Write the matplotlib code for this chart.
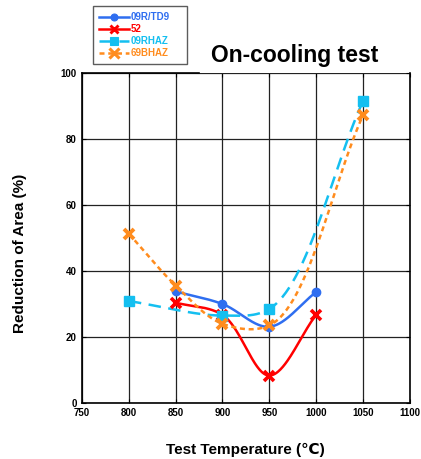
import numpy as np
import matplotlib
matplotlib.use('Agg')
import matplotlib.pyplot as plt
from matplotlib.lines import Line2D

plt.rcParams['font.family'] = ['Liberation Sans', 'DejaVu Sans']

# data
t_td9 = [850, 900, 950, 1000]
ra_td9 = [33.7, 29.9, 23.0, 33.5]
t_52 = [850, 900, 950, 1000]
ra_52 = [30.3, 26.6, 8.2, 26.6]
t_rhaz = [800, 900, 950, 1050]
ra_rhaz = [30.8, 26.4, 28.4, 91.4]
t_bhaz = [800, 850, 900, 950, 1050]
ra_bhaz = [51.2, 35.5, 23.9, 23.4, 87.1]
labels = ['09R/TD9', '52', '09RHAZ', '69BHAZ']

def smooth(ax, x, y, alpha=0.62, n=60):
    # catmull-rom through the points, done in screen space
    P = ax.transData.transform(np.column_stack([x, y]))
    P = np.vstack([2 * P[0] - P[1], P, 2 * P[-1] - P[-2]])
    out = []
    for i in range(len(P) - 3):
        p0, p1, p2, p3 = P[i:i + 4]
        t0 = 0.0
        t1 = t0 + np.linalg.norm(p1 - p0) ** alpha
        t2 = t1 + np.linalg.norm(p2 - p1) ** alpha
        t3 = t2 + np.linalg.norm(p3 - p2) ** alpha
        t = np.linspace(t1, t2, n)[:, None]
        a1 = (t1 - t) / (t1 - t0) * p0 + (t - t0) / (t1 - t0) * p1
        a2 = (t2 - t) / (t2 - t1) * p1 + (t - t1) / (t2 - t1) * p2
        a3 = (t3 - t) / (t3 - t2) * p2 + (t - t2) / (t3 - t2) * p3
        b1 = (t2 - t) / (t2 - t0) * a1 + (t - t0) / (t2 - t0) * a2
        b2 = (t3 - t) / (t3 - t1) * a2 + (t - t1) / (t3 - t1) * a3
        out.append((t2 - t) / (t2 - t1) * b1 + (t - t1) / (t2 - t1) * b2)
    q = ax.transData.inverted().transform(np.vstack(out))
    return q[:, 0], q[:, 1]

fig = plt.figure(figsize=(4.21, 4.59), dpi=100)
ax = fig.add_axes([0.195, 0.123, 0.778, 0.718])
ax.set_xlim(750, 1100)
ax.set_ylim(0, 100)

styles = [
    (t_td9, ra_td9, '#2f6ef0', '-', 'o', 6, 1),
    (t_52, ra_52, '#ff0000', '-', 'x', 7, 2.6),
    (t_rhaz, ra_rhaz, '#14bff0', (0, (5, 3)), 's', 6.5, 1),
    (t_bhaz, ra_bhaz, '#ff8c1e', (0, (2, 1.5)), 'x', 7.5, 2.8),
]
handles = []
for (x, y, c, ls, m, ms, mew), lab in zip(styles, labels):
    sx, sy = smooth(ax, x, y)
    ax.plot(sx, sy, color=c, ls=ls, lw=1.8, zorder=3)
    ax.plot(x, y, ls='none', marker=m, color=c, ms=ms, mew=mew, zorder=4)
    handles.append(Line2D([], [], color=c, ls=ls, lw=1.8, marker=m, ms=ms - 1, mew=mew * 0.8))

ax.set_xticks(range(750, 1101, 50))
ax.set_yticks(range(0, 101, 20))
ax.grid(True, color='#222222', lw=0.9)
ax.set_axisbelow(True)
for s in ax.spines.values():
    s.set_linewidth(1.2)
ax.spines['top'].set_bounds(750, 875)
ax.tick_params(labelsize=7, length=3, direction='in', right=True, top=True, pad=4)
for t in ax.get_xticklabels() + ax.get_yticklabels():
    t.set_fontweight('bold')

ax.set_xlabel('Test Temperature (\u2103)', fontsize=11, fontweight='bold', labelpad=18)
ax.set_ylabel('Reduction of Area (%)', fontsize=11, fontweight='bold')
ax.yaxis.set_label_coords(-0.168, 0.454)
fig.text(0.70, 0.88, 'On-cooling test', ha='center', va='center', fontsize=16.5, fontweight='bold')

leg = fig.legend(handles, labels, loc='upper left', mode='expand',
                 bbox_to_anchor=(0.221, 0.987, 0.223, 0), borderaxespad=0,
                 frameon=True, fancybox=False, edgecolor='#333333',
                 handlelength=3.0, labelspacing=0.2, borderpad=0.65, handletextpad=0.2,
                 labelcolor='linecolor', prop={'weight': 'bold', 'size': 7})
leg.get_frame().set_linewidth(1)

fig.savefig('out.png', dpi=100)
